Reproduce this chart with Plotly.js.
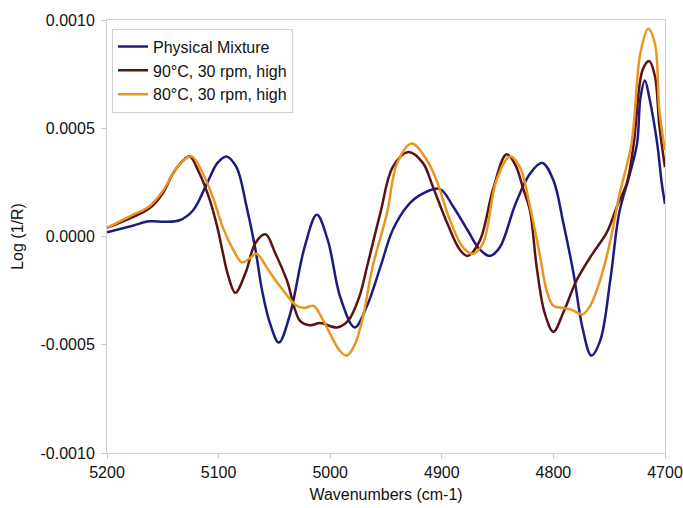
<!DOCTYPE html>
<html>
<head>
<meta charset="utf-8">
<script src="https://cdn.plot.ly/plotly-3.0.1.min.js"></script>
<style>html,body{margin:0;padding:0;background:#fff}#chart{width:683px;height:508px}</style>
</head>
<body>
<div id="chart"></div>
<script>
// Physical Mixture
const physWave = [5200,5177,5162,5148,5135,5123,5110,5101,5093,5084,5075,5067,5061,5054,5046,5036,5023,5012,5002,4991,4978,4967,4955,4944,4931,4920,4902,4890,4877,4866,4857,4848,4834,4821,4810,4800,4791,4782,4774,4766,4758,4749,4741,4732,4725,4722,4718,4714,4707,4703,4700];
const physVal  = [0.00002,0.00005,0.00007,0.000068,0.000075,0.00012,0.00025,0.00034,0.00037,0.00032,0.00014,-0.00006,-0.00025,-0.00040,-0.00049,-0.00036,-0.00005,0.00010,-0.00002,-0.00028,-0.00042,-0.00032,-0.00014,0.00003,0.00014,0.00019,0.00022,0.00014,0.00003,-0.00006,-0.00009,-0.00005,0.00015,0.00029,0.00034,0.00026,0.00006,-0.00017,-0.00042,-0.00055,-0.00048,-0.00020,0.00011,0.00028,0.00043,0.00064,0.00072,0.00064,0.00043,0.00025,0.00015];
// 90°C, 30 rpm, high
const hot90Wave = [5200,5177,5162,5150,5141,5132,5126,5117,5108,5101,5096,5092,5085,5076,5067,5058,5049,5039,5027,5018,5009,4994,4984,4974,4967,4955,4944,4930,4917,4908,4895,4884,4877,4866,4854,4842,4834,4827,4821,4815,4808,4800,4791,4779,4765,4752,4743,4734,4728,4720,4714,4709,4705,4700];
const hot90Val  = [0.00004,0.00009,0.00013,0.00020,0.00029,0.00035,0.00037,0.00029,0.00017,0.00004,-0.00008,-0.00017,-0.00026,-0.00017,-0.00003,0.00001,-0.00008,-0.00020,-0.00039,-0.00041,-0.00040,-0.00042,-0.00039,-0.00028,-0.00014,0.00011,0.00032,0.00039,0.00034,0.00023,0.00006,-0.00006,-0.00009,-0.00002,0.00022,0.00038,0.00033,0.00022,0.00012,-0.00014,-0.00035,-0.00044,-0.00035,-0.00020,-0.00008,0.00002,0.00014,0.00025,0.00043,0.00077,0.00081,0.00074,0.00051,0.00032];
// 80°C, 30 rpm, high
const hot80Wave = [5200,5177,5162,5150,5141,5132,5124,5114,5105,5096,5087,5079,5072,5066,5056,5045,5030,5023,5015,5007,5000,4991,4985,4978,4971,4962,4949,4940,4927,4913,4904,4893,4881,4872,4863,4851,4839,4830,4821,4812,4806,4800,4791,4783,4774,4767,4758,4749,4741,4730,4722,4715,4709,4705,4700];
const hot80Val  = [0.00004,0.00010,0.00014,0.00021,0.00029,0.00035,0.00037,0.00029,0.00018,0.00004,-0.00006,-0.00012,-0.00010,-0.00008,-0.00015,-0.00023,-0.00032,-0.00033,-0.00032,-0.00038,-0.00045,-0.00053,-0.00055,-0.00050,-0.00038,-0.00014,0.00011,0.00034,0.00043,0.00035,0.00025,0.00008,-0.00005,-0.00008,-0.00003,0.00026,0.00037,0.00032,0.00014,-0.00009,-0.00025,-0.00032,-0.00033,-0.00034,-0.00036,-0.00032,-0.00020,-0.00002,0.00019,0.00043,0.00085,0.00096,0.00089,0.00058,0.00040];

const names = ["Physical Mixture", "90°C, 30 rpm, high", "80°C, 30 rpm, high"];
const colors = ["#1b1b80", "#5a1212", "#e8961f"];
const xs = [physWave, hot90Wave, hot80Wave];
const ys = [physVal, hot90Val, hot80Val];

const traces = names.map((n, i) => ({
  type: "scatter", mode: "lines", name: n, x: xs[i], y: ys[i],
  line: {color: colors[i], width: 2.5, shape: "spline", smoothing: 1}
}));

const axisCommon = {
  showgrid: false, zeroline: false, showline: true, linecolor: "#d0d0d0", linewidth: 1,
  mirror: true, ticks: "outside", ticklen: 5, tickcolor: "#c8c8c8",
  tickfont: {family: "Liberation Sans, Arial, sans-serif", size: 16, color: "#111"}
};

const layout = {
  width: 683, height: 508,
  margin: {l: 107, r: 18, t: 20, b: 55},
  paper_bgcolor: "#fff", plot_bgcolor: "#fff",
  font: {family: "Liberation Sans, Arial, sans-serif", size: 16, color: "#111"},
  xaxis: Object.assign({}, axisCommon, {
    range: [5200, 4700], tickvals: [5200, 5100, 5000, 4900, 4800, 4700],
    ticktext: ["5200", "5100", "5000", "4900", "4800", "4700"],
    title: {text: "Wavenumbers (cm-1)", font: {size: 16}, standoff: 8}
  }),
  yaxis: Object.assign({}, axisCommon, {
    range: [-0.001, 0.001], tickvals: [-0.001, -0.0005, 0, 0.0005, 0.001],
    ticktext: ["-0.0010", "-0.0005", "0.0000", "0.0005", "0.0010"],
    ticklabelstandoff: 3,
    title: {text: "Log (1/R)", font: {size: 16}, standoff: 12}
  }),
  showlegend: true,
  legend: {
    x: 0.009, y: 0.98, xanchor: "left", yanchor: "top",
    bgcolor: "#fff", bordercolor: "#d0d0d0", borderwidth: 1,
    font: {size: 16, color: "#111"}, itemwidth: 30, traceorder: "normal"
  }
};

Plotly.newPlot("chart", traces, layout, {displayModeBar: false, staticPlot: true});
</script>
</body>
</html>
